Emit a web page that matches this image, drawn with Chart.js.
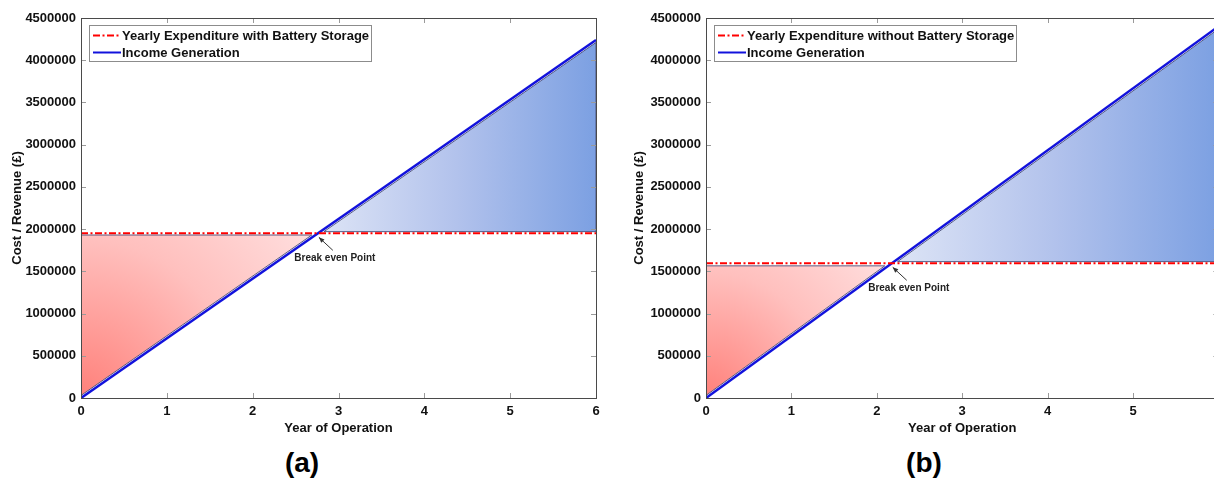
<!DOCTYPE html>
<html lang="en">
<head>
<meta charset="UTF-8">
<title>Break even - with and without battery storage</title>
<script src="https://cdn.jsdelivr.net/npm/chart.js"></script>
<style>
  html, body { margin: 0; padding: 0; background: #fff; overflow: hidden; }
  body { width: 1214px; height: 479px; position: relative; font-family: "Liberation Sans", Arial, sans-serif; }
  .panel { position: absolute; top: 0; width: 612px; height: 479px; }
  .panel canvas { position: absolute; top: 0; left: 0; }
  .cap { position: absolute; top: 449px; left: 252px; width: 100px; text-align: center;
         font-weight: bold; font-size: 28px; line-height: 28px; color: #000; }
</style>
</head>
<body>
<div class="panel" style="left:0px">
  <canvas id="chartA" width="612" height="440"></canvas>
  <div class="cap">(a)</div>
</div>
<div class="panel" style="left:622px">
  <canvas id="chartB" width="612" height="440"></canvas>
  <div class="cap">(b)</div>
</div>
<script>
// values
const years = [0, 6];
const xTicks = [0, 1, 2, 3, 4, 5, 6];
const yTicks = [0, 500000, 1000000, 1500000, 2000000, 2500000, 3000000, 3500000, 4000000, 4500000];

const incomeA = [0, 4240000];
const expenditureA = [1950000, 1950000];
const patchLevelsA = [1930000, 1970000];   // top of red patch, bottom of blue patch

const incomeB = [0, 4400000];
const expenditureB = [1595000, 1595000];
const patchLevelsB = [1565000, 1615000];

const patchGap = 30000;   // patches sit slightly off the income line

const FONT = '"Liberation Sans", Arial, sans-serif';

const frameAndNotes = {
    id: 'frameAndNotes',
    afterDatasetsDraw(chart, args, opts) {
        const {ctx, chartArea: a, scales: {x, y}} = chart;
        ctx.save();

        // inward tick marks
        ctx.strokeStyle = '#9a9a9a';
        ctx.lineWidth = 1;
        ctx.beginPath();
        x.ticks.forEach(t => {
            const px = Math.round(x.getPixelForValue(t.value)) + 0.5;
            ctx.moveTo(px, a.bottom); ctx.lineTo(px, a.bottom - 5);
            ctx.moveTo(px, a.top); ctx.lineTo(px, a.top + 5);
        });
        y.ticks.forEach(t => {
            const py = Math.round(y.getPixelForValue(t.value)) + 0.5;
            ctx.moveTo(a.left, py); ctx.lineTo(a.left + 5, py);
            ctx.moveTo(a.right, py); ctx.lineTo(a.right - 5, py);
        });
        ctx.stroke();

        // axes box
        ctx.strokeStyle = '#4a4a4a';
        ctx.strokeRect(Math.round(a.left) + 0.5, Math.round(a.top) + 0.5,
                       Math.round(a.right - a.left), Math.round(a.bottom - a.top));

        // break even note
        const px = x.getPixelForValue(opts.be), py = y.getPixelForValue(opts.level);
        const hx = px + 1, hy = py + 4, tx = px + 15, ty = py + 17;
        ctx.strokeStyle = '#333';
        ctx.fillStyle = '#333';
        ctx.beginPath(); ctx.moveTo(tx, ty); ctx.lineTo(hx, hy); ctx.stroke();
        const ang = Math.atan2(hy - ty, hx - tx);
        ctx.beginPath();
        ctx.moveTo(hx, hy);
        ctx.lineTo(hx - 6 * Math.cos(ang - 0.4), hy - 6 * Math.sin(ang - 0.4));
        ctx.lineTo(hx - 6 * Math.cos(ang + 0.4), hy - 6 * Math.sin(ang + 0.4));
        ctx.closePath(); ctx.fill();
        ctx.font = 'bold 10px ' + FONT;
        ctx.fillStyle = '#222';
        ctx.textAlign = 'center';
        ctx.textBaseline = 'middle';
        ctx.fillText('Break even Point', px + 17, py + 25);

        // legend box
        const items = chart.data.datasets.slice(0, 2);
        ctx.font = 'bold 13px ' + FONT;
        const bx = Math.round(a.left) + 8, by = Math.round(a.top) + 7;
        const w = Math.round(33 + Math.max(...items.map(d => ctx.measureText(d.label).width)) + 2);
        ctx.fillStyle = '#fff';
        ctx.fillRect(bx, by, w, 36);
        ctx.strokeStyle = '#8c8c8c';
        ctx.strokeRect(bx + 0.5, by + 0.5, w, 36);
        items.forEach((d, i) => {
            const ry = by + 10.5 + i * 17;
            ctx.strokeStyle = d.borderColor;
            ctx.lineWidth = 2;
            ctx.setLineDash(d.borderDash || []);
            ctx.beginPath(); ctx.moveTo(bx + 4, ry); ctx.lineTo(bx + 32, ry); ctx.stroke();
            ctx.setLineDash([]);
            ctx.fillStyle = '#111';
            ctx.textAlign = 'left';
            ctx.fillText(d.label, bx + 33, ry + 1);
        });
        ctx.restore();
    }
};

function buildPanel(id, legendText, income, expenditure, patchLevels, axisWidth, rightPad) {
    const slope = (income[1] - income[0]) / (years[1] - years[0]);
    const xAt = v => years[0] + (v - income[0]) / slope;
    const be = xAt(expenditure[0]);

    const redPatch = [
        {x: years[0], y: income[0] + patchGap},
        {x: years[0], y: patchLevels[0]},
        {x: xAt(patchLevels[0] - patchGap), y: patchLevels[0]},
        {x: years[0], y: income[0] + patchGap}
    ];
    const bluePatch = [
        {x: xAt(patchLevels[1] + patchGap), y: patchLevels[1]},
        {x: years[1], y: patchLevels[1]},
        {x: years[1], y: income[1] - patchGap},
        {x: xAt(patchLevels[1] + patchGap), y: patchLevels[1]}
    ];

    const redFill = c => {
        const ch = c.chart, x = ch.scales.x, y = ch.scales.y;
        if (!ch.chartArea || !x) return 'rgb(255,170,170)';
        const ox = x.getPixelForValue(years[0]), oy = y.getPixelForValue(income[0]);
        const r = Math.hypot(x.getPixelForValue(be) - ox, y.getPixelForValue(expenditure[0]) - oy);
        const g = ch.ctx.createRadialGradient(ox, oy, 0, ox, oy, r);
        g.addColorStop(0, 'rgb(255,128,122)');
        g.addColorStop(0.55, 'rgb(255,192,190)');
        g.addColorStop(1, 'rgb(255,224,224)');
        return g;
    };
    const blueFill = c => {
        const ch = c.chart, x = ch.scales.x;
        if (!ch.chartArea || !x) return 'rgb(170,190,235)';
        const g = ch.ctx.createLinearGradient(x.getPixelForValue(be), 0, x.getPixelForValue(years[1]), 0);
        g.addColorStop(0, 'rgb(222,229,246)');
        g.addColorStop(0.5, 'rgb(178,194,236)');
        g.addColorStop(1, 'rgb(124,160,226)');
        return g;
    };

    const line = (x, i, arr) => ({x, y: arr[i]});

    return new Chart(document.getElementById(id), {
        type: 'scatter',
        data: {
            datasets: [
                { label: legendText, data: years.map((v, i) => line(v, i, expenditure)),
                  showLine: true, borderColor: '#ff0000', borderWidth: 2, borderDash: [7, 2.5, 2, 2.5],
                  pointRadius: 0, fill: false },
                { label: 'Income Generation', data: years.map((v, i) => line(v, i, income)),
                  showLine: true, borderColor: '#1212dc', borderWidth: 2.5, pointRadius: 0, fill: false },
                { label: 'red patch', data: redPatch, showLine: true, borderColor: 'rgba(70,75,120,0.9)',
                  borderWidth: 1, pointRadius: 0, fill: 'shape', backgroundColor: redFill },
                { label: 'blue patch', data: bluePatch, showLine: true, borderColor: 'rgba(70,75,120,0.9)',
                  borderWidth: 1, pointRadius: 0, fill: 'shape', backgroundColor: blueFill }
            ]
        },
        options: {
            responsive: false,
            animation: false,
            devicePixelRatio: 1,
            events: [],
            layout: { padding: { top: 18, right: rightPad, bottom: 0, left: 0 } },
            scales: {
                x: {
                    type: 'linear', min: years[0], max: years[1],
                    afterBuildTicks: s => { s.ticks = xTicks.map(v => ({value: v})); },
                    afterFit: s => { s.height = 42; },
                    grid: { display: false, drawTicks: false },
                    border: { display: false },
                    ticks: { padding: 6, color: '#111', font: { family: FONT, size: 13, weight: 'bold' },
                             callback: v => String(v) },
                    title: { display: true, text: 'Year of Operation', color: '#111',
                             font: { family: FONT, size: 13, weight: 'bold' }, padding: { top: 0, bottom: 4 } }
                },
                y: {
                    type: 'linear', min: yTicks[0], max: yTicks[yTicks.length - 1],
                    afterBuildTicks: s => { s.ticks = yTicks.map(v => ({value: v})); },
                    afterFit: s => { s.width = axisWidth; },
                    grid: { display: false, drawTicks: false },
                    border: { display: false },
                    ticks: { padding: 5, color: '#111', font: { family: FONT, size: 13, weight: 'bold' },
                             callback: v => String(v) },
                    title: { display: true, text: 'Cost / Revenue (£)', color: '#111',
                             font: { family: FONT, size: 13, weight: 'bold' }, padding: { top: 10, bottom: 0 } }
                }
            },
            plugins: {
                legend: { display: false },
                tooltip: { enabled: false },
                frameAndNotes: { be: be, level: expenditure[0] }
            }
        },
        plugins: [frameAndNotes]
    });
}

buildPanel('chartA', 'Yearly Expenditure with Battery Storage', incomeA, expenditureA, patchLevelsA, 81, 16);
buildPanel('chartB', 'Yearly Expenditure without Battery Storage', incomeB, expenditureB, patchLevelsB, 84, 15.6);
</script>
</body>
</html>
